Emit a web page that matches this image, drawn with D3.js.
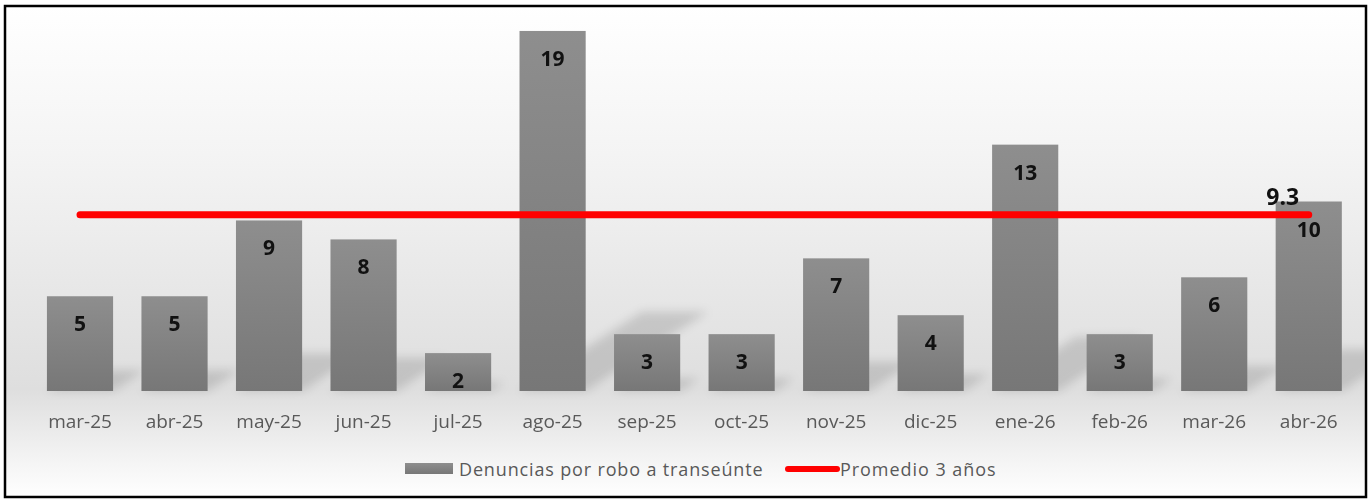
<!DOCTYPE html>
<html><head><meta charset="utf-8">
<script src="https://cdn.jsdelivr.net/npm/d3@7/dist/d3.min.js"></script>
<style>body{margin:0;background:#fff}svg{display:block}text{font-family:"Open Sans",sans-serif}</style>
</head><body><svg id="c" width="1372" height="500"></svg>
<script>
const categories = ["mar-25","abr-25","may-25","jun-25","jul-25","ago-25","sep-25","oct-25","nov-25","dic-25","ene-26","feb-26","mar-26","abr-26"];
const denuncias = [5,5,9,8,2,19,3,3,7,4,13,3,6,10];
const promedio = [9.3,9.3,9.3,9.3,9.3,9.3,9.3,9.3,9.3,9.3,9.3,9.3,9.3,9.3];
const yDomain = [0,20];
const seriesNames = ["Denuncias por robo a transeúnte","Promedio 3 años"];

const svg = d3.select("#c");
const defs = svg.append("defs");
const bg = defs.append("linearGradient").attr("id","bg").attr("x1",0).attr("y1",0).attr("x2",0).attr("y2",1);
bg.append("stop").attr("offset","0%").attr("stop-color","#ffffff");
bg.append("stop").attr("offset","30%").attr("stop-color","#f4f4f4");
bg.append("stop").attr("offset","78%").attr("stop-color","#dedede");
bg.append("stop").attr("offset","100%").attr("stop-color","#ffffff");
const bar = defs.append("linearGradient").attr("id","bar").attr("x1",0).attr("y1",0).attr("x2",0).attr("y2",1);
bar.append("stop").attr("offset","0%").attr("stop-color","#8e8e8e");
bar.append("stop").attr("offset","100%").attr("stop-color","#777777");
defs.append("filter").attr("id","blur").attr("x","-50%").attr("y","-50%").attr("width","200%").attr("height","200%")
  .append("feGaussianBlur").attr("stdDeviation",5);
defs.append("clipPath").attr("id","frame").append("rect").attr("x",7).attr("y",8).attr("width",1357).attr("height",487);

svg.append("rect").attr("x",5).attr("y",6).attr("width",1361).attr("height",491)
  .attr("fill","url(#bg)").attr("stroke","#000").attr("stroke-width",2.5);

const x = d3.scaleBand().domain(categories).range([32.75,1356]).paddingInner(0.3).paddingOuter(0.15);
const y = d3.scaleLinear().domain(yDomain).range([391,12]);
const base = y(0);

// shadows
svg.append("g").attr("clip-path","url(#frame)").append("g").attr("filter","url(#blur)")
  .selectAll("path").data(denuncias).join("path")
  .attr("d",(d,i)=>{const x0=x(categories[i]), x1=x0+x.bandwidth(), h=base-y(d);
    return `M${x0},${base}L${x1},${base}L${x1+0.34*h},${base-0.22*h}L${x0+0.34*h},${base-0.22*h}Z`;})
  .attr("fill","#000").attr("opacity",0.13);

svg.append("g").selectAll("rect").data(denuncias).join("rect")
  .attr("x",(d,i)=>x(categories[i])).attr("width",x.bandwidth())
  .attr("y",d=>y(d)).attr("height",d=>base-y(d)).attr("fill","url(#bar)");

svg.append("g").selectAll("text").data(denuncias).join("text")
  .attr("x",(d,i)=>x(categories[i])+x.bandwidth()/2).attr("y",d=>y(d)+35)
  .attr("text-anchor","middle").attr("font-size",21).attr("font-weight","bold").attr("fill","#111")
  .text(d=>d);

const line = d3.line().x((d,i)=>x(categories[i])+x.bandwidth()/2).y(d=>y(d));
svg.append("path").datum(promedio).attr("d",line).attr("fill","none")
  .attr("stroke","#ff0000").attr("stroke-width",7).attr("stroke-linecap","round");

const li = promedio.length-1;
svg.append("text").attr("x",x(categories[li])+x.bandwidth()/2-26).attr("y",y(promedio[li])-10)
  .attr("text-anchor","middle").attr("font-size",23).attr("font-weight","bold").attr("fill","#111")
  .text(promedio[li].toFixed(1));

const xAxis = svg.append("g").attr("transform",`translate(0,${base})`).call(d3.axisBottom(x).tickSize(0).tickPadding(0));
xAxis.select(".domain").remove();
xAxis.selectAll("text").attr("y",37).attr("dy",0).attr("font-size",19).attr("fill","#595959")
  .style("font-family","'Open Sans',sans-serif");

// legend
const lg = svg.append("g");
lg.append("rect").attr("x",405).attr("y",463).attr("width",48).attr("height",11).attr("fill","url(#bar)");
lg.append("text").attr("x",459).attr("y",476).attr("font-size",18).attr("letter-spacing",0.85).attr("fill","#595959").text(seriesNames[0]);
lg.append("line").attr("x1",788).attr("x2",837).attr("y1",469).attr("y2",469).attr("stroke","#ff0000")
  .attr("stroke-width",6).attr("stroke-linecap","round");
lg.append("text").attr("x",840).attr("y",476).attr("font-size",18).attr("letter-spacing",0.95).attr("fill","#595959").text(seriesNames[1]);
</script></body></html>
